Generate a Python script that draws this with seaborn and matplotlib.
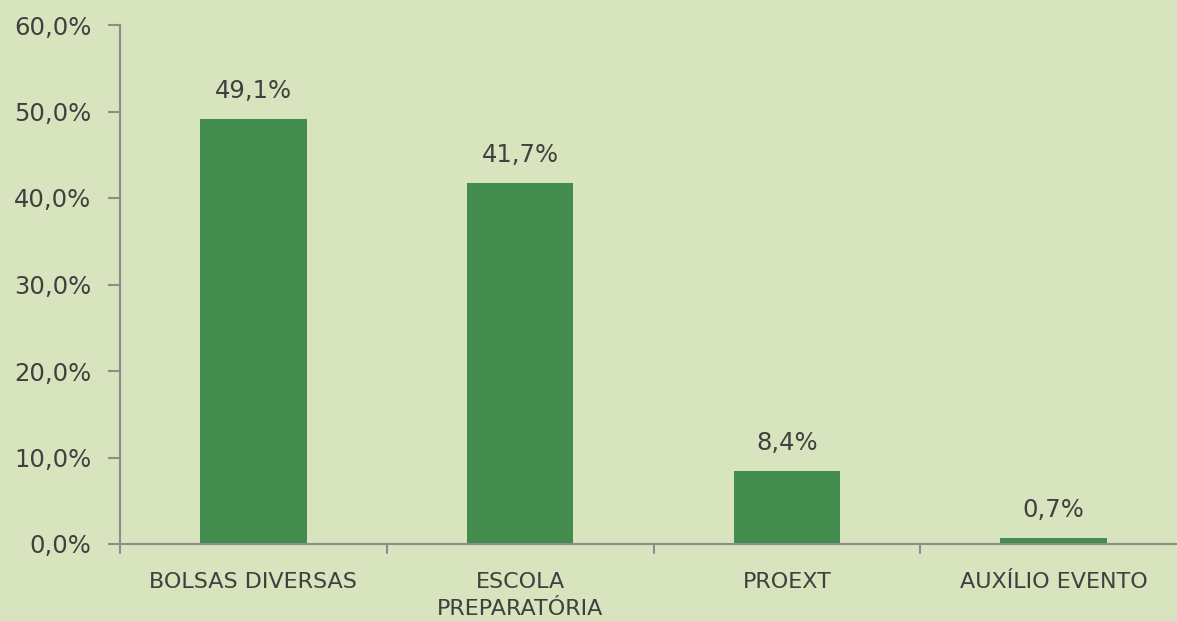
import matplotlib
matplotlib.use("Agg")
import matplotlib.pyplot as plt
import seaborn as sns
import pandas as pd

categories = ["BOLSAS DIVERSAS", "ESCOLA\nPREPARATÓRIA", "PROEXT", "AUXÍLIO EVENTO"]
values = [49.1, 41.7, 8.4, 0.7]
yticks = [0, 10, 20, 30, 40, 50, 60]

bg = "#D8E4BD"
bar_color = "#438D4F"
text_color = "#404040"
axis_color = "#8C8C8C"

sns.set_theme(style="white")
plt.rcParams["font.family"] = ["DejaVu Sans"]

df = pd.DataFrame({"cat": categories, "val": values})

fig = plt.figure(figsize=(11.77, 6.21), dpi=100, facecolor=bg)
ax = fig.add_axes([120/1177, (621-544)/621, 1067/1177, (544-25)/621])
ax.set_facecolor(bg)

sns.barplot(data=df, x="cat", y="val", color=bar_color, width=0.4, ax=ax,
            saturation=1, linewidth=0, edgecolor=bar_color)

ax.set_ylim(0, 60)
ax.set_xlim(-0.5, 3.5)
ax.set_yticks(yticks)
ax.set_yticklabels([f"{v:.1f}%".replace(".", ",") for v in yticks], fontsize=17.5, color=text_color)
ax.set_xticks(range(len(categories)))
ax.set_xticklabels(categories, fontsize=16, color=text_color, linespacing=1.45, va="top")
ax.set_xlabel("")
ax.set_ylabel("")

ax.tick_params(axis="x", bottom=False, length=0, pad=20)
ax.tick_params(axis="y", left=True, length=8.5, width=1.5, color=axis_color, direction="out", pad=12)
for b in [-0.5, 0.5, 1.5, 2.5, 3.5]:
    ax.plot([b, b], [0, -1.0], color=axis_color, lw=1.5, clip_on=False)

for s in ["top", "right"]:
    ax.spines[s].set_visible(False)
for s in ["left", "bottom"]:
    ax.spines[s].set_color(axis_color)
    ax.spines[s].set_linewidth(1.5)

for i, v in enumerate(values):
    ax.text(i, v + 1.9, f"{v:.1f}%".replace(".", ","), ha="center", va="bottom",
            fontsize=17.5, color=text_color)

fig.savefig("out.png", dpi=100, facecolor=bg)
